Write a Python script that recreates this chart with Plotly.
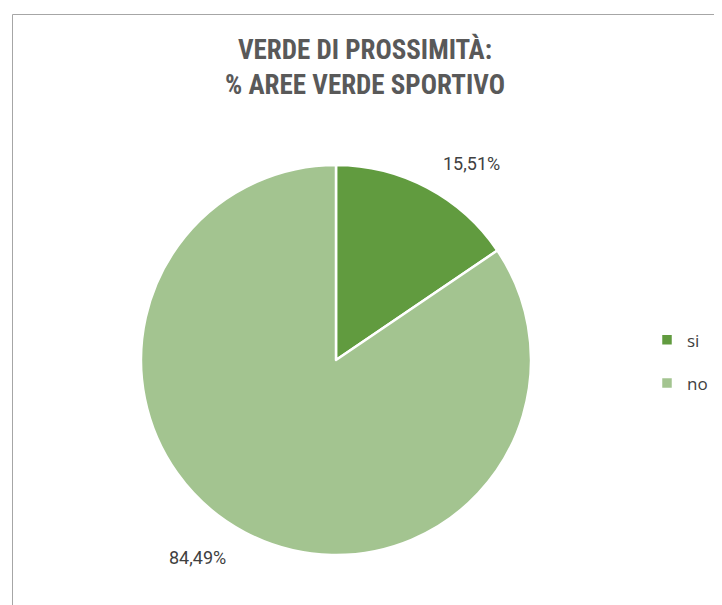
import plotly.graph_objects as go

# Data
categories = ['si', 'no']
shares = [15.51, 84.49]
colors = ['#619b3f', '#a3c490']

title_text = 'VERDE DI PROSSIMITÀ:<br>% AREE VERDE SPORTIVO'

# the page body adds an 8px margin, so the figure is sized/positioned for it
OFF = 8
W, H = 722 - OFF, 605 - OFF


def px(x):
    return (x - OFF) / W


def py(y):
    return 1 - (y - OFF) / H


fig = go.Figure()

fig.add_trace(go.Pie(
    labels=[f"<span style='font-size:17px;baseline-shift:5px'>{c}</span>" for c in categories],
    values=shares,
    sort=False,
    direction='clockwise',
    rotation=0,
    marker={'colors': colors, 'line': {'color': 'white', 'width': 2.5}},
    textinfo='none',
    hovertemplate='%{percent}<extra></extra>',
    domain={'x': [px(141), px(531)], 'y': [py(555), py(165)]},
))

# Data labels (Excel style, outside the pie)
label_pos = [(471, 163), (197, 557)]
for val, (lx, ly) in zip(shares, label_pos):
    fig.add_annotation(
        x=px(lx), y=py(ly), xref='paper', yref='paper',
        text=f'{val:.2f}%'.replace('.', ','),
        showarrow=False, xanchor='center', yanchor='middle',
        font={'family': 'Roboto, Arial, sans-serif', 'size': 18, 'color': '#404040'},
    )

# Chart border (left and top edges visible)
fig.add_shape(type='line', xref='paper', yref='paper',
              x0=px(12.5), x1=1, y0=py(14.5), y1=py(14.5),
              line={'color': '#a6a6a6', 'width': 1})
fig.add_shape(type='line', xref='paper', yref='paper',
              x0=px(12.5), x1=px(12.5), y0=0, y1=py(14.5),
              line={'color': '#a6a6a6', 'width': 1})

fig.update_layout(
    width=W, height=H,
    margin={'l': 0, 'r': 0, 't': 0, 'b': 0},
    paper_bgcolor='white',
    plot_bgcolor='white',
    title={
        'text': title_text,
        'x': 0.5, 'xanchor': 'center',
        'y': py(59), 'yanchor': 'top',
        'font': {'family': '"Liberation Sans Narrow", "Roboto Condensed", "Arial Narrow", sans-serif',
                 'size': 27, 'color': '#595959', 'weight': 'bold'},
    },
    legend={
        'x': px(647), 'y': py(313), 'xanchor': 'left', 'yanchor': 'top',
        'font': {'family': '"Open Sans", Calibri, sans-serif', 'size': 31, 'color': '#404040'},
        'bgcolor': 'rgba(0,0,0,0)',
        'tracegroupgap': 0,
    },
    showlegend=True,
)

fig.write_html('out.html')
